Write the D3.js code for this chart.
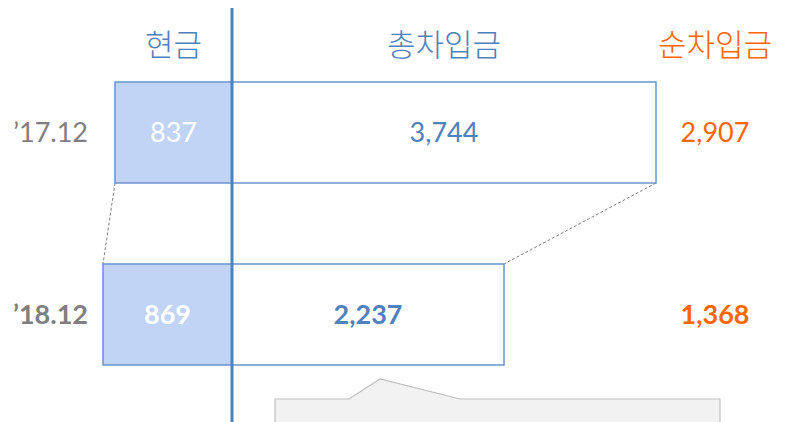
<!DOCTYPE html>
<html lang="ko">
<head>
    <meta charset="UTF-8">
    <title>현금 / 총차입금 / 순차입금</title>
    <script src="https://d3js.org/d3.v7.min.js"></script>
    <style>
        body { margin: 0; background: #fff; }
        svg { display: block; }
        .head { font-family: "Noto Sans CJK KR", sans-serif; font-size: 31px; font-weight: 300; }
        .num { font-family: Lato, "Noto Sans", sans-serif; font-size: 27px; }
    </style>
</head>
<body>
<div id="chart"></div>
<script>
    // Data
    const years = ["’17.12", "’18.12"];
    const cash = [837, 869];
    const grossDebt = [3744, 2237];
    const netDebt = [2907, 1368];
    const headers = ["현금", "총차입금", "순차입금"];

    const width = 789, height = 422;
    const axisX = 232;
    const blue = "#4f81bd", orange = "#ff6600", gray = "#7f7f7f";

    const svg = d3.select("#chart").append("svg")
        .attr("width", width)
        .attr("height", height);

    // Scales (bars are drawn outward from the centre line)
    const y = d3.scaleBand().domain(years).range([82, 365]).paddingInner(0.445);
    const cashW = d3.scaleLinear().domain([837, 869]).range([117, 129]);
    const debtW = d3.scaleLinear().domain([2237, 3744]).range([272, 424]);

    const rows = years.map((yr, i) => ({
        year: yr, cash: cash[i], gross: grossDebt[i], net: netDebt[i], bold: i === 1,
        y0: y(yr), y1: y(yr) + y.bandwidth(),
        xl: axisX - cashW(cash[i]), xr: axisX + debtW(grossDebt[i])
    }));

    // Gray callout shape at the bottom (partly cut off)
    svg.append("path")
        .attr("d", "M275,423 L275,399 L349,399 L380,379 L460,399 L720,399 L720,423")
        .attr("fill", "#f2f2f2")
        .attr("stroke", "#bfbfbf")
        .attr("stroke-width", 1.2);

    // Dashed connectors between the two years
    const a = rows[0], b = rows[1];
    [[a.xl, a.y1, b.xl, b.y0], [a.xr, a.y1, b.xr, b.y0]].forEach(p => {
        svg.append("line")
            .attr("x1", p[0]).attr("y1", p[1]).attr("x2", p[2]).attr("y2", p[3])
            .attr("stroke", "#808080")
            .attr("stroke-width", 1)
            .attr("stroke-dasharray", "3,2");
    });

    // Debt boxes
    svg.selectAll(".debt").data(rows).enter().append("rect")
        .attr("class", "debt")
        .attr("x", axisX)
        .attr("y", d => d.y0)
        .attr("width", d => d.xr - axisX)
        .attr("height", y.bandwidth())
        .attr("fill", "#fff")
        .attr("stroke", "#6a93cc")
        .attr("stroke-width", 1.5);

    // Cash boxes
    svg.selectAll(".cash").data(rows).enter().append("rect")
        .attr("class", "cash")
        .attr("x", d => d.xl)
        .attr("y", d => d.y0)
        .attr("width", d => axisX - d.xl)
        .attr("height", y.bandwidth())
        .attr("fill", "#c2d4f6")
        .attr("stroke", "#6a93cc")
        .attr("stroke-width", 1.5);

    // Centre line
    svg.append("line")
        .attr("x1", axisX).attr("x2", axisX)
        .attr("y1", 8).attr("y2", height)
        .attr("stroke", blue)
        .attr("stroke-width", 3);

    // Headers
    const headX = [(a.xl + axisX) / 2, (axisX + a.xr) / 2, 715];
    svg.selectAll(".head").data(headers).enter().append("text")
        .attr("class", "head")
        .attr("x", (d, i) => headX[i])
        .attr("y", 56)
        .attr("text-anchor", "middle")
        .attr("fill", (d, i) => i === 2 ? orange : blue)
        .text(d => d);

    // Labels per row
    const fmt = d3.format(",");
    const label = (sel, x, anchor, color, fn) => sel.append("text")
        .attr("class", "num")
        .attr("x", x)
        .attr("y", d => (d.y0 + d.y1) / 2)
        .attr("dy", "0.36em")
        .attr("text-anchor", anchor)
        .attr("font-weight", d => d.bold ? "bold" : "normal")
        .attr("fill", color)
        .text(fn);

    const g = svg.selectAll(".row").data(rows).enter().append("g");
    label(g, 88, "end", gray, d => d.year);
    label(g, d => (d.xl + axisX) / 2, "middle", "#fff", d => fmt(d.cash));
    label(g, d => (axisX + d.xr) / 2, "middle", blue, d => fmt(d.gross));
    label(g, 715, "middle", orange, d => fmt(d.net));
</script>
</body>
</html>
